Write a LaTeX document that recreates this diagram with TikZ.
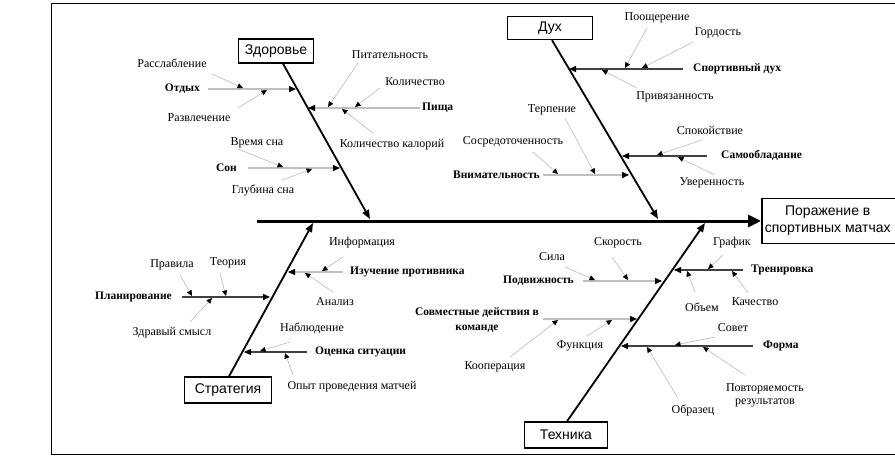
\documentclass[tikz,border=0pt]{standalone}
\usepackage{fontspec}
\setmainfont{Liberation Serif}
\newfontfamily\boxfont{Liberation Sans}
\usetikzlibrary{arrows.meta}
\tikzset{
  bonebox/.style={draw, line width=1.3pt, font=\boxfont\fontsize{14}{16}\selectfont, minimum height=24pt, inner sep=2pt},
  spine/.style={line width=3pt, -{Triangle[length=13pt,width=12pt]}},
  bone/.style={line width=1.8pt, -{Triangle[length=9pt,width=7pt]}},
  branchL/.style={draw=gray!50, line width=1.4pt, -{Triangle[length=7pt,width=6pt,black]}},
  branchD/.style={draw=black!75, line width=1.4pt, -{Triangle[length=7pt,width=6pt,black]}},
  sub/.style={draw=gray!55, line width=0.6pt, -{Triangle[length=5.5pt,width=5pt,black]}},
  lbl/.style={font=\fontsize{12}{13}\selectfont, inner sep=0pt},
  cat/.style={font=\bfseries\fontsize{11.5}{15}\selectfont, inner sep=0pt, align=center},
}
\begin{document}
\begin{tikzpicture}[x=1pt,y=-1pt]
\useasboundingbox (0,0) rectangle (895,458);
\draw[line width=1pt] (896,3) -- (51,3) -- (51,454) -- (896,454);

% effect box
\node[draw, line width=1.5pt, minimum width=140pt, minimum height=45pt, anchor=west, align=center,
  font=\boxfont\fontsize{14}{17}\selectfont] (eff) at (761,221) {\hspace*{-8pt}Поражение в\\\hspace*{-8pt}спортивных матчах};
\coordinate (sp0) at (257,221);
\draw[spine] (sp0) -- (eff.west);

% category boxes
\node[bonebox, minimum width=75pt] (zdr) at (276,51) {Здоровье};
\node[bonebox, minimum width=85pt, minimum height=23pt] (duh) at (550,28) {Дух};
\node[bonebox, minimum width=87pt, minimum height=26pt] (str) at (228,390) {Стратегия};
\node[bonebox, minimum width=83pt, minimum height=26pt] (teh) at (566,435) {Техника};

\coordinate (zt) at (370,219);
\coordinate (dt) at (658,219);
\coordinate (st) at (313,223);
\coordinate (tt) at (705,223);
\draw[bone] ([xshift=7pt]zdr.south) -- (zt);
\draw[bone] ([xshift=2pt]duh.south) -- (dt);
\draw[bone] ([xshift=1pt]str.north) -- (st);
\draw[bone] ([xshift=1pt]teh.north) -- (tt);

% ---------- Здоровье ----------
\node[cat, anchor=east] (otd) at (200,89) {Отдых};
\coordinate (b1s) at (208,89); \coordinate (b1t) at (296,89);
\draw[branchL] (b1s) -- (b1t);
\node[lbl] (l1) at (172,63) {Расслабление};
\node[lbl] (l2) at (199,118) {Развлечение};
\coordinate (s1) at (212,74); \coordinate (t1) at (243,88); \draw[sub] (s1) -- (t1);
\coordinate (s2) at (238,108); \coordinate (t2) at (267,90); \draw[sub] (s2) -- (t2);

\node[cat, anchor=west] (pis) at (422,108) {Пища};
\coordinate (b2s) at (420,108); \coordinate (b2t) at (308,108);
\draw[branchL] (b2s) -- (b2t);
\node[lbl] (l3) at (390,55) {Питательность};
\node[lbl] (l4) at (415,82) {Количество};
\node[lbl] (l5) at (392,145) {Количество калорий};
\coordinate (s3) at (358,63); \coordinate (t3) at (328,107); \draw[sub] (s3) -- (t3);
\coordinate (s4) at (380,88); \coordinate (t4) at (355,107); \draw[sub] (s4) -- (t4);
\coordinate (s5) at (373,133); \coordinate (t5) at (342,109); \draw[sub] (s5) -- (t5);

\node[cat, anchor=east] (son) at (237,168) {Сон};
\coordinate (b3s) at (248,168); \coordinate (b3t) at (340,168);
\draw[branchL] (b3s) -- (b3t);
\node[lbl] (l6) at (257,143) {Время сна};
\node[lbl] (l7) at (263,190) {Глубина сна};
\coordinate (s6) at (238,149); \coordinate (t6) at (283,167); \draw[sub] (s6) -- (t6);
\coordinate (s7) at (282,180); \coordinate (t7) at (312,169); \draw[sub] (s7) -- (t7);

% ---------- Дух ----------
\node[cat, anchor=west] (spd) at (693,69) {Спортивный дух};
\coordinate (b4s) at (683,69); \coordinate (b4t) at (569,69);
\draw[branchD] (b4s) -- (b4t);
\node[lbl] (l8) at (657,18) {Поощерение};
\node[lbl] (l9) at (718,33) {Гордость};
\node[lbl] (l10) at (675,97) {Привязанность};
\coordinate (s8) at (647,28); \coordinate (t8) at (625,68); \draw[sub] (s8) -- (t8);
\coordinate (s9) at (693,42); \coordinate (t9) at (642,68); \draw[sub] (s9) -- (t9);
\coordinate (s10) at (637,88); \coordinate (t10) at (602,70); \draw[sub] (s10) -- (t10);

\node[cat, anchor=west] (sam) at (721,155) {Самообладание};
\coordinate (b5s) at (707,156); \coordinate (b5t) at (622,156);
\draw[branchD] (b5s) -- (b5t);
\node[lbl] (l11) at (710,130) {Спокойствие};
\node[lbl] (l12) at (712,183) {Уверенность};
\coordinate (s11) at (702,140); \coordinate (t11) at (657,155); \draw[sub] (s11) -- (t11);
\coordinate (s12) at (715,175); \coordinate (t12) at (678,157); \draw[sub] (s12) -- (t12);

\node[cat, anchor=east] (vni) at (540,175) {Внимательность};
\coordinate (b6s) at (543,175); \coordinate (b6t) at (629,175);
\draw[branchL] (b6s) -- (b6t);
\node[lbl] (l13) at (513,142) {Сосредоточенность};
\node[lbl] (l14) at (552,110) {Терпение};
\coordinate (s13) at (533,152); \coordinate (t13) at (558,174); \draw[sub] (s13) -- (t13);
\coordinate (s14) at (565,118); \coordinate (t14) at (595,174); \draw[sub] (s14) -- (t14);

% ---------- Стратегия ----------
\node[cat, anchor=east] (pla) at (172,297) {Планирование};
\coordinate (b7s) at (182,297); \coordinate (b7t) at (270,297);
\draw[branchD] (b7s) -- (b7t);
\node[lbl] (l15) at (172,265) {Правила};
\node[lbl] (l16) at (228,263) {Теория};
\node[lbl] (l17) at (172,333) {Здравый смысл};
\coordinate (s15) at (180,275); \coordinate (t15) at (192,296); \draw[sub] (s15) -- (t15);
\coordinate (s16) at (220,273); \coordinate (t16) at (226,296); \draw[sub] (s16) -- (t16);
\coordinate (s17) at (190,322); \coordinate (t17) at (212,298); \draw[sub] (s17) -- (t17);

\node[cat, anchor=west] (izu) at (350,272) {Изучение противника};
\coordinate (b8s) at (343,272); \coordinate (b8t) at (288,272);
\draw[branchL] (b8s) -- (b8t);
\node[lbl] (l18) at (362,243) {Информация};
\node[lbl] (l19) at (335,302) {Анализ};
\coordinate (s18) at (343,257); \coordinate (t18) at (322,271); \draw[sub] (s18) -- (t18);
\coordinate (s19) at (333,292); \coordinate (t19) at (305,273); \draw[sub] (s19) -- (t19);

\node[cat, anchor=west] (ots) at (315,352) {Оценка ситуации};
\coordinate (b9s) at (307,352); \coordinate (b9t) at (244,352);
\draw[branchD] (b9s) -- (b9t);
\node[lbl] (l20) at (312,328) {Наблюдение};
\node[lbl] (l21) at (352,387) {Опыт проведения матчей};
\coordinate (s20) at (290,342); \coordinate (t20) at (260,351); \draw[sub] (s20) -- (t20);
\coordinate (s21) at (293,375); \coordinate (t21) at (285,353); \draw[sub] (s21) -- (t21);

% ---------- Техника ----------
\node[cat, anchor=east] (pod) at (574,281) {Подвижность};
\coordinate (b10s) at (583,281); \coordinate (b10t) at (662,281);
\draw[branchL] (b10s) -- (b10t);
\node[lbl] (l22) at (552,257) {Сила};
\node[lbl] (l23) at (618,243) {Скорость};
\coordinate (s22) at (565,267); \coordinate (t22) at (595,280); \draw[sub] (s22) -- (t22);
\coordinate (s23) at (612,257); \coordinate (t23) at (628,280); \draw[sub] (s23) -- (t23);

\node[cat, anchor=west] (tre) at (751,270) {Тренировка};
\coordinate (b11s) at (743,270); \coordinate (b11t) at (674,270);
\draw[branchD] (b11s) -- (b11t);
\node[lbl] (l24) at (732,243) {График};
\node[lbl] (l25) at (702,307) {Объем};
\node[lbl] (l26) at (755,302) {Качество};
\coordinate (s24) at (723,255); \coordinate (t24) at (708,269); \draw[sub] (s24) -- (t24);
\coordinate (s25) at (695,292); \coordinate (t25) at (687,271); \draw[sub] (s25) -- (t25);
\coordinate (s26) at (748,293); \coordinate (t26) at (732,271); \draw[sub] (s26) -- (t26);

\node[cat] (sov) at (477,320) {Совместные действия в\\команде};
\coordinate (b12s) at (543,319); \coordinate (b12t) at (637,319);
\draw[branchL] (b12s) -- (b12t);
\node[lbl] (l27) at (495,367) {Кооперация};
\node[lbl] (l28) at (580,346) {Функция};
\coordinate (s27) at (510,357); \coordinate (t27) at (558,320); \draw[sub] (s27) -- (t27);
\coordinate (s28) at (587,336); \coordinate (t28) at (612,320); \draw[sub] (s28) -- (t28);

\node[cat, anchor=west] (for) at (763,346) {Форма};
\coordinate (b13s) at (753,346); \coordinate (b13t) at (621,346);
\draw[branchD] (b13s) -- (b13t);
\node[lbl] (l29) at (733,328) {Совет};
\node[lbl] (l30) at (693,410) {Образец};
\node[lbl, align=center] (l31) at (765,395) {Повторяемость\\результатов};
\coordinate (s29) at (715,337); \coordinate (t29) at (675,345); \draw[sub] (s29) -- (t29);
\coordinate (s30) at (678,398); \coordinate (t30) at (647,347); \draw[sub] (s30) -- (t30);
\coordinate (s31) at (745,375); \coordinate (t31) at (703,347); \draw[sub] (s31) -- (t31);
\end{tikzpicture}
\end{document}
